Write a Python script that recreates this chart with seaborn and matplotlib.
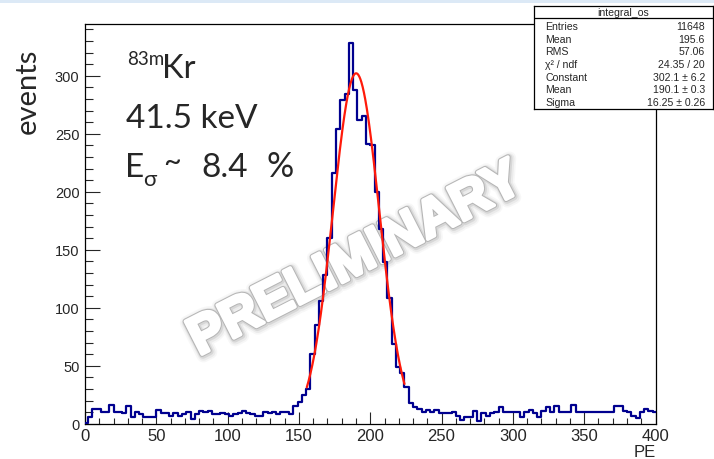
import numpy as np
import pandas as pd
import matplotlib
matplotlib.use("Agg")
import matplotlib.pyplot as plt
import matplotlib.patheffects as pe
from matplotlib.ticker import MultipleLocator
from matplotlib.patches import Rectangle
import seaborn as sns

# ---- histogram: integral_os, 3-PE bins starting at -1 PE ----
bin_start = -1.0
bin_width = 3.0
counts = [
    1, 6, 13, 13, 10, 10, 16, 10, 10, 9,          # -1 .. 29
    15, 6, 10, 8, 6, 6, 6, 12, 9, 9,              # 29 .. 59
    7, 9, 7, 8, 10, 4, 8, 11, 10, 11,             # 59 .. 89
    8, 8, 9, 8, 7, 8, 9, 11, 9, 8,                # 89 .. 119
    7, 7, 10, 9, 10, 8, 10, 10, 8, 15,            # 119 .. 149
    19, 25, 30, 60, 85, 106, 128, 160, 216, 254,  # 149 .. 179
    279, 284, 328, 288, 262, 265, 241, 240, 200, 168,  # 179 .. 209
    139, 108, 69, 49, 44, 32, 18, 14, 13, 10,     # 209 .. 239
    12, 10, 12, 9, 9, 9, 10, 7, 3, 6,             # 239 .. 269
    6, 11, 2, 9, 7, 9, 10, 14, 10, 10,            # 269 .. 299
    10, 10, 6, 10, 12, 9, 6, 11, 14, 10,          # 299 .. 329
    15, 10, 10, 10, 16, 10, 10, 10, 10, 10,       # 329 .. 359
    10, 10, 10, 10, 15, 15, 11, 10, 7, 5,         # 359 .. 389
    10, 13, 11, 10,                               # 389 .. 401
]

# ---- Gaussian fit result ----
fit_constant = 302.1
fit_mean = 190.1
fit_sigma = 16.25
fit_lo, fit_hi = 155.5, 224.0

stats_title = "integral_os"
stats_labels = ["Entries", "Mean", "RMS", "\u03c7\u00b2 / ndf", "Constant", "Mean", "Sigma"]
stats_values = ["11648", "195.6", "57.06", "24.35 / 20",
                "302.1 \u00b1 6.2", "190.1 \u00b1 0.3", "16.25 \u00b1 0.26"]

x_ticks_step, x_minor_step = 50, 10
y_ticks_step, y_minor_step = 50, 10

W, H = 714, 460
sns.set_style("white")
plt.rcParams["font.family"] = ["Liberation Sans", "DejaVu Sans"]

fig = plt.figure(figsize=(W / 100, H / 100), dpi=100)
fig.patch.set_facecolor("white")

def fx(px):
    return px / W

def fy(py):
    return 1 - py / H

# thin slide border band at the top
fig.add_artist(Rectangle((0, fy(4)), 1, 4 / H, transform=fig.transFigure,
                         facecolor="#dce9f6", edgecolor="none", zorder=0))

ax_l, ax_r, ax_t, ax_b = 85, 655.5, 25, 424.7
ax = fig.add_axes([fx(ax_l), fy(ax_b), fx(ax_r - ax_l), (ax_b - ax_t) / H])
ax.set_facecolor("white")

edges = bin_start + bin_width * np.arange(len(counts) + 1)
hist_df = pd.DataFrame({
    "pe": 0.5 * (edges[:-1] + edges[1:]),
    "n": np.asarray(counts, dtype=float),
})

# watermark underneath the data
grey = (0.45, 0.45, 0.45)
ax.text(fx(356), fy(261), "PRELIMINARY", rotation=27, rotation_mode="anchor",
        transform=fig.transFigure, ha="center", va="center", fontsize=38.5,
        fontweight="bold", family=["Liberation Sans"], color="white", zorder=1,
        path_effects=[
            pe.Stroke(linewidth=10, foreground=grey, alpha=0.05, joinstyle="round",
                      offset=(1, -1)),
            pe.Stroke(linewidth=7.5, foreground=grey, alpha=0.09, joinstyle="round",
                      offset=(1, -1)),
            pe.Stroke(linewidth=5.5, foreground=grey, alpha=0.16, joinstyle="round",
                      offset=(0.6, -0.6)),
            pe.Stroke(linewidth=4.0, foreground=grey, alpha=0.35, joinstyle="round"),
            pe.Stroke(linewidth=2.6, foreground="white", joinstyle="round"),
            pe.Normal(),
        ])

sns.histplot(data=hist_df, x="pe", weights="n", bins=list(edges), element="step",
             fill=False, color="#00008f", linewidth=1.6, ax=ax, zorder=3)

fit_x = np.linspace(fit_lo, fit_hi, 300)
fit_df = pd.DataFrame({
    "pe": fit_x,
    "f": fit_constant * np.exp(-0.5 * ((fit_x - fit_mean) / fit_sigma) ** 2),
})
sns.lineplot(data=fit_df, x="pe", y="f", color="#ff1a0a", linewidth=1.6, ax=ax,
             zorder=4, sort=False)

ax.set_xlim(0, 400)
ax.set_ylim(0, 344.6)
ax.set_xlabel("")
ax.set_ylabel("")
ax.xaxis.set_major_locator(MultipleLocator(x_ticks_step))
ax.xaxis.set_minor_locator(MultipleLocator(x_minor_step))
ax.yaxis.set_major_locator(MultipleLocator(y_ticks_step))
ax.yaxis.set_minor_locator(MultipleLocator(y_minor_step))
ax.tick_params(axis="x", which="major", direction="in", length=8.6, width=0.8,
               labelsize=12, pad=3, top=False, bottom=True)
ax.tick_params(axis="x", which="minor", direction="in", length=4.3, width=0.8,
               top=False, bottom=True)
ax.tick_params(axis="y", which="major", direction="in", length=10.8, width=0.8,
               labelsize=10.5, pad=4, left=True, right=False)
ax.tick_params(axis="y", which="minor", direction="in", length=5.4, width=0.8,
               left=True, right=False)
for s in ax.spines.values():
    s.set_visible(True)
    s.set_color("black")
    s.set_linewidth(0.9)

# axis titles
fig.text(fx(656), fy(457), "PE", ha="right", va="baseline", fontsize=12)
fig.text(fx(28), fy(91), "events", rotation=90, ha="center", va="center",
         fontsize=21, family=["Lato", "DejaVu Sans"])

# slide annotations
slide_font = ["Lato", "DejaVu Sans"]
fig.text(fx(127), fy(65), "83m", ha="left", va="baseline", fontsize=13.5, family=slide_font)
fig.text(fx(162), fy(78), "Kr", ha="left", va="baseline", fontsize=23.5, family=slide_font)
fig.text(fx(126), fy(128), "41.5 keV", ha="left", va="baseline", fontsize=24, family=slide_font)
fig.text(fx(125), fy(177), "E", ha="left", va="baseline", fontsize=24, family=slide_font)
fig.text(fx(143), fy(186), "\u03c3", ha="left", va="baseline", fontsize=16, family=slide_font)
fig.text(fx(163), fy(171), "~", ha="left", va="baseline", fontsize=22, family=slide_font)
fig.text(fx(201), fy(177), "8.4", ha="left", va="baseline", fontsize=24, family=slide_font)
fig.text(fx(266), fy(177), "%", ha="left", va="baseline", fontsize=24.5, family=slide_font)

# statistics box
bx0, bx1, by0, by1 = 534, 713, 7, 110
sax = fig.add_axes([fx(bx0), fy(by1), fx(bx1 - bx0), (by1 - by0) / H])
sax.set_facecolor("white")
sax.set_xlim(bx0, bx1)
sax.set_ylim(by1, by0)
sax.set_xticks([])
sax.set_yticks([])
for s in sax.spines.values():
    s.set_visible(True)
    s.set_color("black")
    s.set_linewidth(0.9)
sax.axhline(19.5, color="black", linewidth=0.9)
sax.text((bx0 + bx1) / 2, 13.5, stats_title, ha="center", va="center", fontsize=7.6)
row_y = np.linspace(26.8, 103.2, len(stats_labels))
for yy, lab, val in zip(row_y, stats_labels, stats_values):
    sax.text(545, yy, lab, ha="left", va="center", fontsize=7.6)
    sax.text(705, yy, val, ha="right", va="center", fontsize=7.6)

fig.savefig("out.png", dpi=100)
